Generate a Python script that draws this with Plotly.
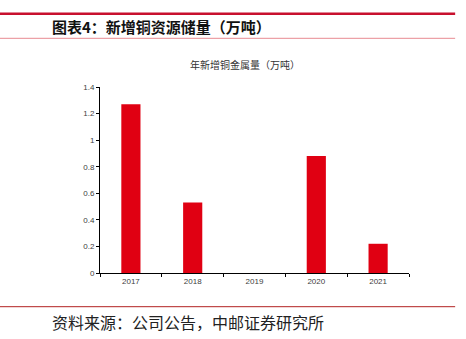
import plotly.graph_objects as go

years = ["2017", "2018", "2019", "2020", "2021"]
values = [1.27, 0.53, 0, 0.88, 0.22]
y_ticks = [0, 0.2, 0.4, 0.6, 0.8, 1, 1.2, 1.4]
y_tick_text = ["0", "0.2", "0.4", "0.6", "0.8", "1", "1.2", "1.4"]

W, H = 466, 339
fig = go.Figure()
fig.add_trace(go.Bar(x=years, y=values, marker=dict(color="#E00012", line=dict(width=0)), width=0.31))

fig.update_layout(
    width=W, height=H,
    margin=dict(l=100, r=57, t=87, b=66),
    paper_bgcolor="white", plot_bgcolor="white",
    showlegend=False,
    font=dict(family="Noto Sans CJK SC, DejaVu Sans", size=8, color="#404040"),
    xaxis=dict(showline=True, linecolor="#000", linewidth=1, ticks="outside", ticklen=3,
               tickcolor="#000", tickson="boundaries", showgrid=False, zeroline=False,
               tickfont=dict(size=8, color="#404040", family="Liberation Sans, DejaVu Sans")),
    yaxis=dict(range=[0, 1.4], showline=True, linecolor="#000", linewidth=1, ticks="outside",
               ticklen=3, tickcolor="#000", showgrid=False, zeroline=False,
               tickvals=y_ticks, ticktext=y_tick_text,
               tickfont=dict(size=8, color="#404040", family="Liberation Sans, DejaVu Sans")),
    shapes=[
        dict(type="line", xref="paper", yref="paper", x0=-100/308, x1=(454-100)/308,
             y0=1 + (87-13.7)/186, y1=1 + (87-13.7)/186, line=dict(color="#C8102E", width=2.5)),
        dict(type="line", xref="paper", yref="paper", x0=-100/308, x1=(454-100)/308,
             y0=1 + (87-38.3)/186, y1=1 + (87-38.3)/186, line=dict(color="#E88A92", width=1)),
        dict(type="line", xref="paper", yref="paper", x0=-100/308, x1=(454-100)/308,
             y0=-(306.7-273)/186, y1=-(306.7-273)/186, line=dict(color="#B22222", width=1)),
    ],
    annotations=[
        dict(text="<b>图表4：新增铜资源储量（万吨）</b>", xref="paper", yref="paper",
             x=(50-100)/308, y=1 + (87-26)/186, xanchor="left", yanchor="middle", showarrow=False,
             font=dict(size=15, color="#111", family="Noto Sans CJK SC")),
        dict(text="年新增铜金属量（万吨）", xref="paper", yref="paper",
             x=(245-100)/308, y=1 + (87-64)/186, xanchor="center", yanchor="middle", showarrow=False,
             font=dict(size=10, color="#333", family="Noto Sans CJK SC")),
        dict(text="资料来源：公司公告，中邮证券研究所", xref="paper", yref="paper",
             x=(50-100)/308, y=-(322-273)/186, xanchor="left", yanchor="middle", showarrow=False,
             font=dict(size=16, color="#222", family="Noto Sans CJK SC")),
    ],
)
fig.write_html("out.html")
